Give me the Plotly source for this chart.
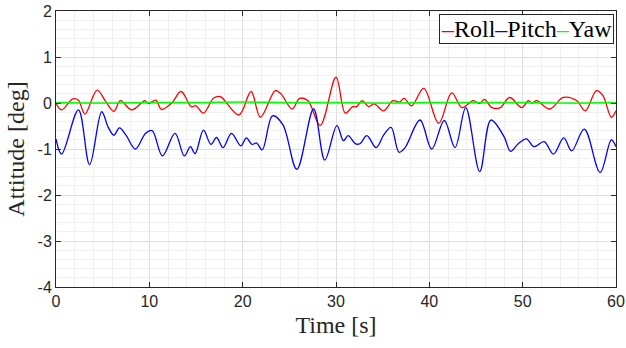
import plotly.graph_objects as go

roll_t = [0, 0.6, 1.8, 2.4, 3.1, 4.4, 5.3, 6.2, 6.9, 8.1, 9.2, 9.5, 9.9, 10.7, 11.3, 12.4, 13.4, 14.5, 15.0,
          15.8, 16.9, 17.6, 19.6, 20.9, 21.9, 23.5, 24.1, 25.3, 26.1, 27.0, 28.3, 30.0, 31.0, 31.8, 32.2,
          32.8, 33.5, 34.1, 35.1, 36.1, 36.8, 37.3, 38.1, 39.4, 41.0, 42.4, 43.5, 44.7, 45.4, 45.9, 46.7,
          47.6, 48.6, 49.9, 50.6, 51.0, 51.5, 52.9, 54.35, 55.8, 56.7, 57.9, 58.6, 59.5, 60]
roll_v = [0.0, -0.15, 0.09, 0.06, -0.24, 0.28, 0.04, -0.18, 0.05, -0.15, 0.01, 0.05, -0.01, 0.06, -0.14, 0.0,
          0.25, -0.08, -0.06, -0.22, 0.11, 0.14, -0.26, 0.25, -0.31, 0.27, 0.2, -0.13, 0.1, 0.05, -0.49,
          0.56, -0.22, -0.08, -0.08, 0.05, -0.08, -0.02, -0.17, 0.05, 0.02, 0.1, -0.06, 0.32, -0.44, 0.22,
          -0.1, 0.05, -0.01, 0.08, -0.1, -0.1, 0.12, -0.1, 0.05, 0.0, 0.05, -0.13, 0.12, 0.05, -0.17, 0.27,
          0.16, -0.31, -0.17]

pitch_t = [0, 0.6, 2.4, 3.6, 4.9, 5.6, 6.2, 6.8, 7.5, 8.5, 9.6, 10.3, 11.4, 12.75, 13.75, 14.4, 14.9, 15.8,
           16.6, 17.2, 17.9, 18.8, 19.8, 20.4, 21.0, 21.5, 22.1, 23.2, 24.3, 25.8, 27.6, 28.8, 30.1, 30.8,
           31.3, 32.1, 32.6, 33.3, 34.3, 35.1, 35.9, 36.75, 37.4, 39.0, 40.25, 41.6, 42.75, 43.9, 45.4,
           46.6, 48.0, 48.7, 49.5, 50.4, 51.2, 52.3, 53.3, 54.4, 55.25, 56.6, 58.3, 59.5, 60]
pitch_v = [-0.78, -1.11, -0.15, -1.34, -0.19, -0.53, -0.7, -0.54, -0.7, -1.0, -0.66, -0.6, -1.15, -0.66,
           -1.15, -0.95, -1.1, -0.59, -0.9, -0.75, -0.97, -0.66, -0.93, -0.76, -0.9, -0.87, -1.02, -0.28,
           -0.47, -1.44, -0.13, -1.24, -0.49, -0.82, -0.71, -0.89, -0.88, -0.71, -0.97, -0.7, -0.53, -1.07,
           -0.97, -0.37, -1.0, -0.38, -0.97, -0.1, -1.49, -0.37, -0.73, -1.05, -0.89, -0.78, -0.95, -0.84,
           -1.11, -0.76, -1.04, -0.57, -1.51, -0.8, -0.95]

yaw_t = [0, 5, 10, 15, 20, 25, 30, 35, 40, 45, 50, 55, 60]
yaw_v = [0.01, 0.0, 0.01, 0.01, 0.02, 0.01, 0.01, 0.0, 0.01, 0.01, 0.01, 0.0, 0.01]

x_ticks = [0, 10, 20, 30, 40, 50, 60]
y_ticks = [-4, -3, -2, -1, 0, 1, 2]

series_names = ["Roll", "Pitch", "Yaw"]
series_colors = ["#ff0000", "#0000ff", "#00ff00"]

fig = go.Figure()
fig.add_trace(go.Scatter(x=roll_t, y=roll_v, mode="lines", name=series_names[0],
                         line=dict(color=series_colors[0], width=1.3, shape="spline", smoothing=1.0)))
fig.add_trace(go.Scatter(x=pitch_t, y=pitch_v, mode="lines", name=series_names[1],
                         line=dict(color=series_colors[1], width=1.3, shape="spline", smoothing=1.0)))
fig.add_trace(go.Scatter(x=yaw_t, y=yaw_v, mode="lines", name=series_names[2],
                         line=dict(color=series_colors[2], width=1.5, shape="spline")))

axis_common = dict(
    showline=True, linecolor="#262626", linewidth=1, mirror="ticks",
    ticks="inside", ticklen=5, tickcolor="#262626", tickwidth=1,
    showgrid=True, gridcolor="#dedede", gridwidth=1, zeroline=False,
    automargin=False, ticklabeloverflow="allow",
    tickfont=dict(family="Liberation Sans, Arial", size=16, color="#262626"),
)

fig.update_xaxes(range=[0, 60], tickvals=x_ticks, ticktext=[str(v) for v in x_ticks],
                 minor=dict(dtick=2, showgrid=True, gridcolor="#f1f1f1", ticks=""),
                 title=dict(text="Time [s]", font=dict(family="Liberation Serif", size=24, color="#262626"),
                            standoff=6),
                 **axis_common)
fig.update_yaxes(range=[-4, 2], tickvals=y_ticks, ticktext=[str(v) for v in y_ticks],
                 minor=dict(dtick=0.2, showgrid=True, gridcolor="#f1f1f1", ticks=""),
                 title=dict(text="Attitude [deg]", font=dict(family="Liberation Serif", size=24, color="#262626"),
                            standoff=6),
                 **axis_common)

legend_text = "".join(
    f"<span style='color:{c}'>–</span>{n}" for n, c in zip(series_names, series_colors)
)
fig.add_annotation(
    text=legend_text, xref="paper", yref="paper", x=0.996, y=0.988,
    xanchor="right", yanchor="top", showarrow=False,
    font=dict(family="Liberation Serif", size=24, color="black"),
    bgcolor="white", bordercolor="#262626", borderwidth=1, borderpad=1,
)

fig.update_layout(
    width=626, height=348,
    margin=dict(l=56, r=10, t=11, b=61),
    plot_bgcolor="white", paper_bgcolor="white",
    showlegend=False,
)

# remove the default 8px page margin so the figure fills the window exactly
fig.write_html("out.html", config={"displayModeBar": False},
               post_script="document.body.style.margin='0';")
